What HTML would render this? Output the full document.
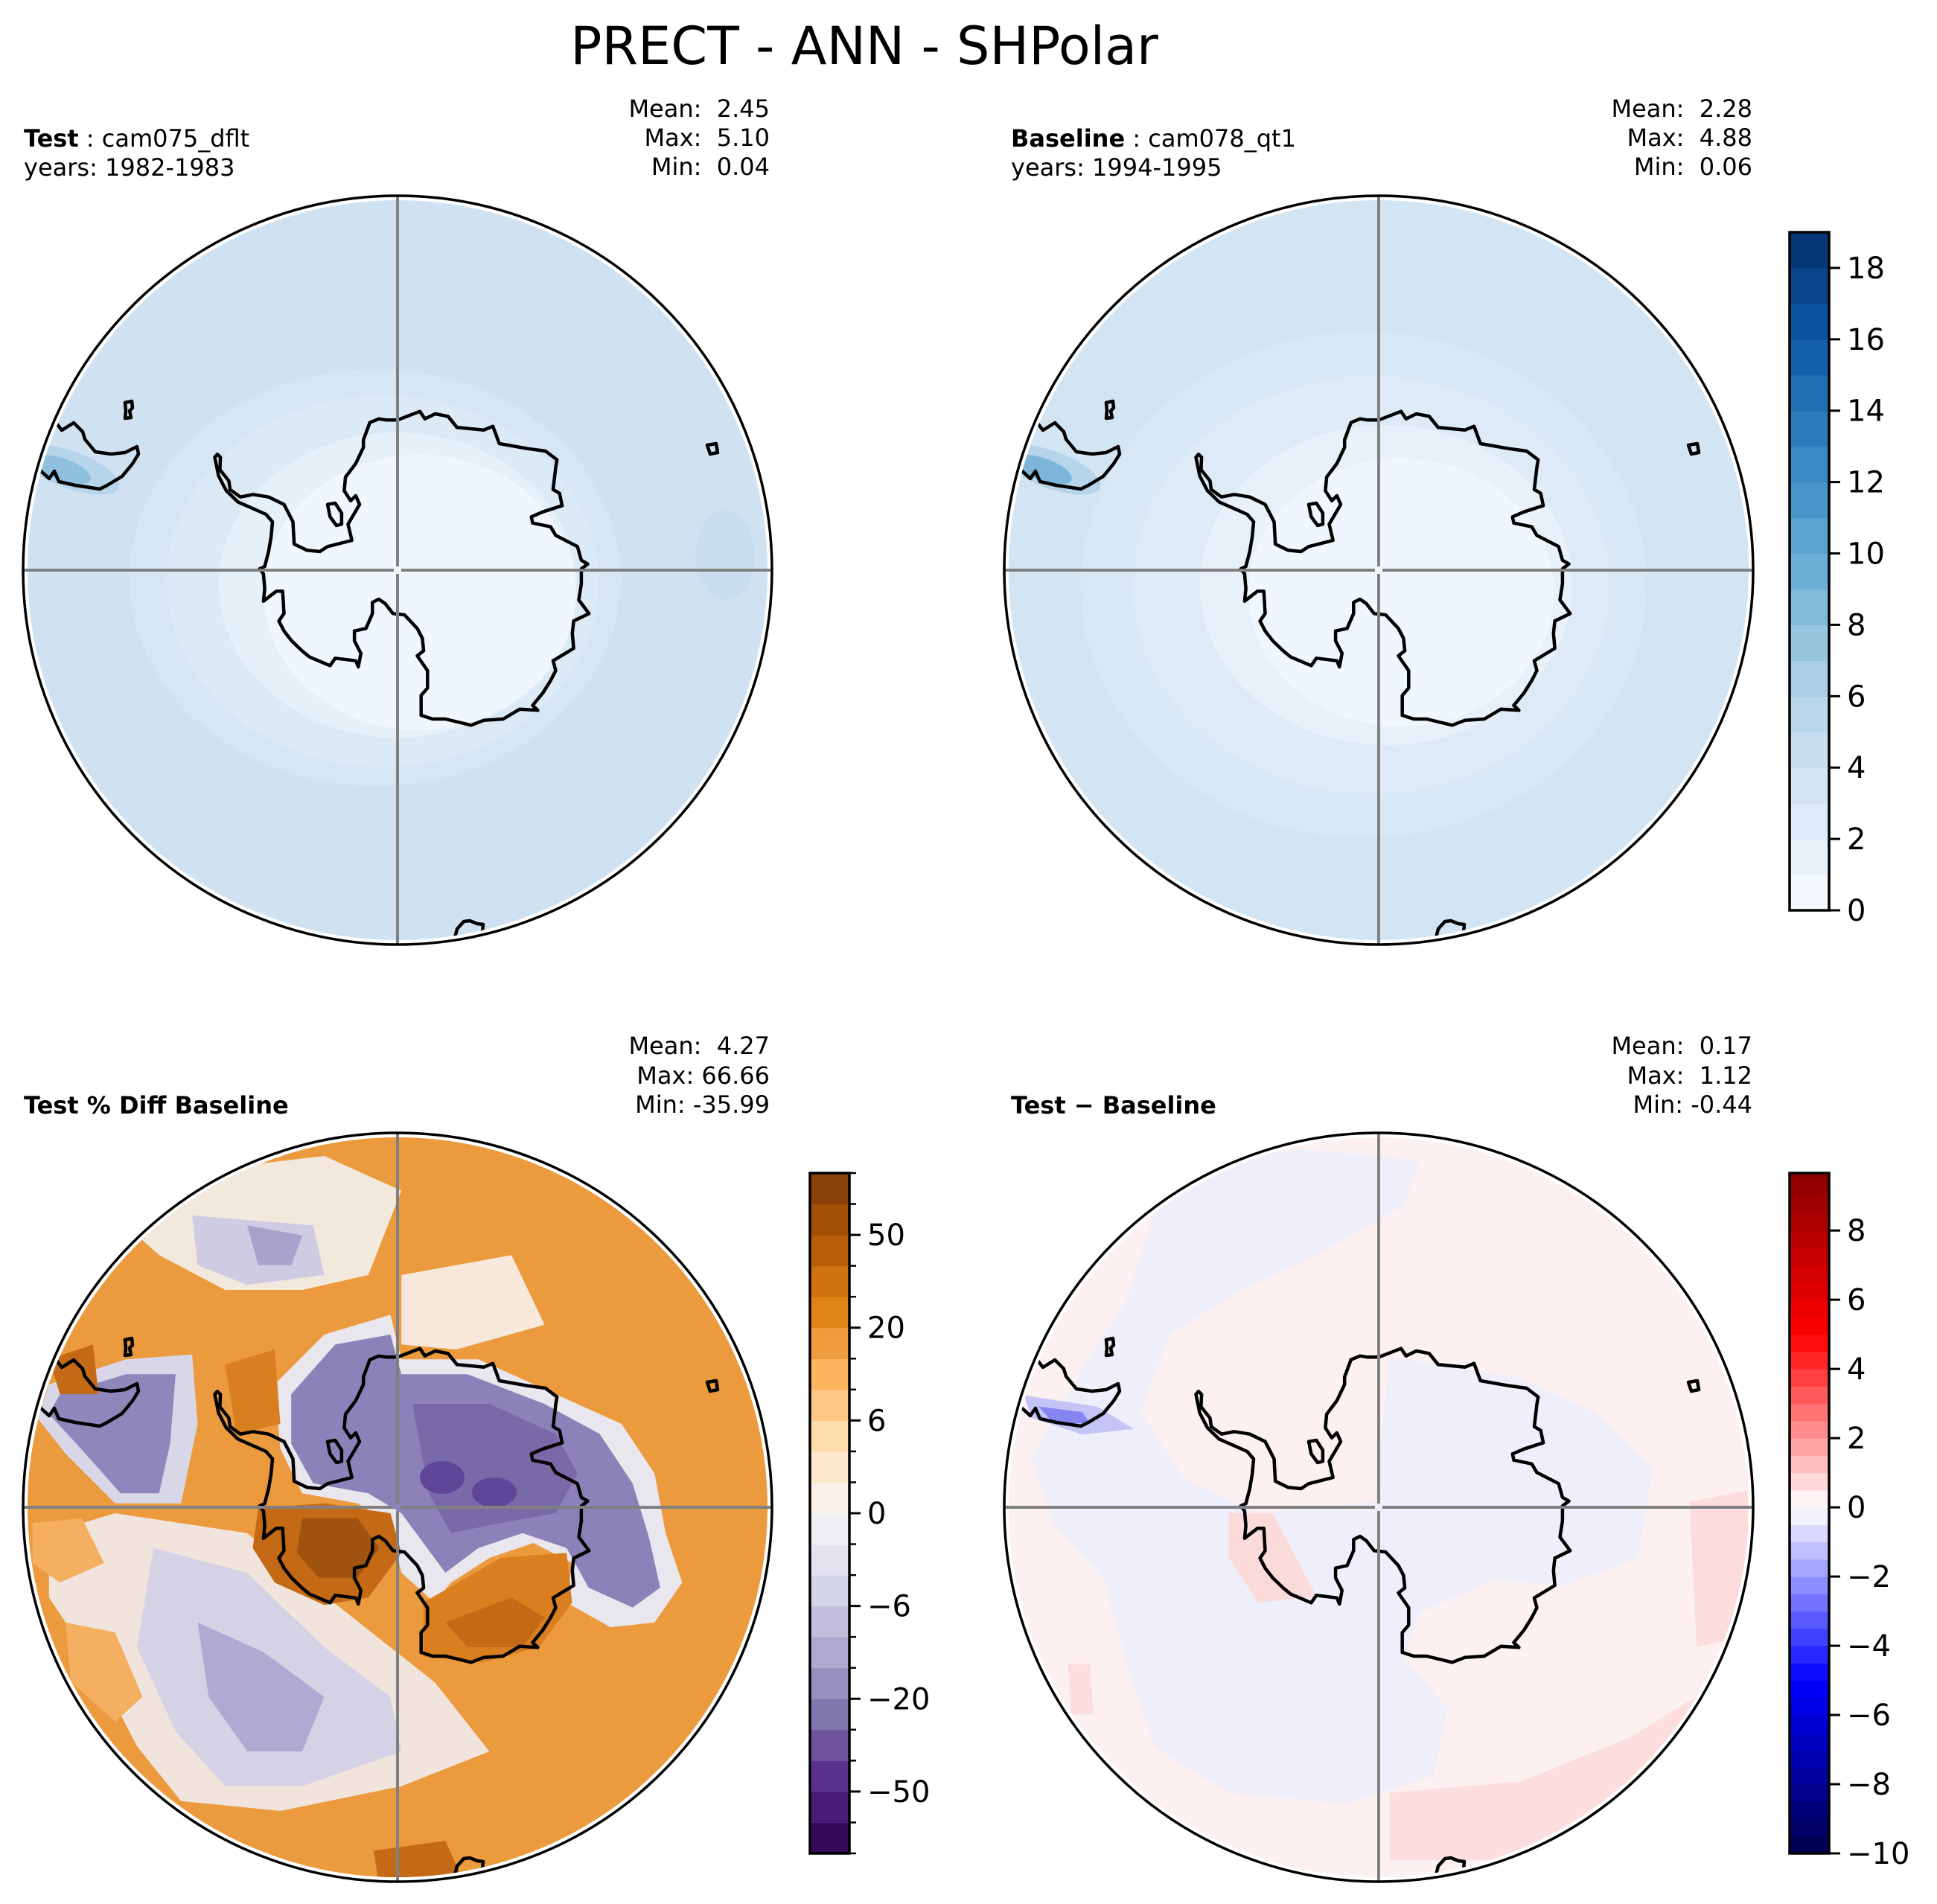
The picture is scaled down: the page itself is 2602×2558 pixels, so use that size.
<!DOCTYPE html>
<html><head><meta charset="utf-8"><style>
html,body{margin:0;padding:0;background:#fff}
svg{display:block;font-family:"DejaVu Sans","Liberation Sans",sans-serif}
text{white-space:pre}
</style></head><body>
<svg id="fig" xmlns="http://www.w3.org/2000/svg" width="2602" height="2558" viewBox="0 0 2602 2558" xml:space="preserve">
<rect width="2602" height="2558" fill="#fff"/>
<text x="1161" y="86" font-size="70" text-anchor="middle">PRECT - ANN - SHPolar</text>

<g font-size="32">
<text x="32" y="197"><tspan font-weight="bold">Test</tspan> : cam075_dflt</text>
<text x="32" y="236">years: 1982-1983</text>
<text x="1034" y="157" text-anchor="end">Mean:  2.45</text>
<text x="1034" y="196" text-anchor="end">Max:  5.10</text>
<text x="1034" y="235" text-anchor="end">Min:  0.04</text>
</g>
<g font-size="32">
<text x="1358" y="197"><tspan font-weight="bold">Baseline</tspan> : cam078_qt1</text>
<text x="1358" y="236">years: 1994-1995</text>
<text x="2354" y="157" text-anchor="end">Mean:  2.28</text>
<text x="2354" y="196" text-anchor="end">Max:  4.88</text>
<text x="2354" y="235" text-anchor="end">Min:  0.06</text>
</g>
<g font-size="32">
<text x="32" y="1496" font-weight="bold">Test % Diff Baseline</text>
<text x="1034" y="1416" text-anchor="end">Mean:  4.27</text>
<text x="1034" y="1456" text-anchor="end">Max: 66.66</text>
<text x="1034" y="1495" text-anchor="end">Min: -35.99</text>
</g>
<g font-size="32">
<text x="1358" y="1496" font-weight="bold">Test − Baseline</text>
<text x="2354" y="1416" text-anchor="end">Mean:  0.17</text>
<text x="2354" y="1456" text-anchor="end">Max:  1.12</text>
<text x="2354" y="1495" text-anchor="end">Min: -0.44</text>
</g>
</svg>
<script>
const NS='http://www.w3.org/2000/svg';
const svg=document.getElementById('fig');
function mk(tag,attrs,parent){const e=document.createElementNS(NS,tag);for(const k in attrs)e.setAttribute(k,attrs[k]);(parent||svg).appendChild(e);return e;}

// ---- colorbar data ----
const blueLevels=[0,1,2,3,4,5,6,7,8,9,10,11,12,13,14,15,16,17,18,19];
const blueTicks=[0,2,4,6,8,10,12,14,16,18];
const pctLevels=[-70,-60,-50,-40,-30,-20,-15,-10,-6,-4,-2,0,2,4,6,10,15,20,30,40,50,60,70];
const pctTicks=[-50,-20,-6,0,6,20,50];
const diffLevels=[-10,-9.5,-9,-8.5,-8,-7.5,-7,-6.5,-6,-5.5,-5,-4.5,-4,-3.5,-3,-2.5,-2,-1.5,-1,-0.5,0,0.5,1,1.5,2,2.5,3,3.5,4,4.5,5,5.5,6,6.5,7,7.5,8,8.5,9,9.5,9.66];
const diffTicks=[-10,-8,-6,-4,-2,0,2,4,6,8];

const BLUES=['#f7fbff','#deebf7','#c6dbef','#9ecae1','#6baed6','#4292c6','#2171b5','#08519c','#08306b'];
const PUOR=['#2d004b','#542788','#8073ac','#b2abd2','#d8daeb','#f7f7f7','#fee0b6','#fdb863','#e08214','#b35806','#7f3b08'];
const SEIS=['#00004c','#0000ff','#ffffff','#ff0000','#800000'];
function hx(c){return [parseInt(c.substr(1,2),16),parseInt(c.substr(3,2),16),parseInt(c.substr(5,2),16)];}
function cmap(a,t){t=Math.max(0,Math.min(1,t));const n=a.length-1;const i=Math.min(n-1,Math.floor(t*n));const f=t*n-i;const A=hx(a[i]),B=hx(a[i+1]);return 'rgb('+A.map((v,k)=>Math.round(v+(B[k]-v)*f)).join(',')+')';}

function colorbar(name,x,y,w,h,levels,ticks,uniform,colorFn,minor){
  const g=mk('g',{});
  
  
  const n=levels.length-1;
  const lo=levels[0],hi=levels[n];
  const pos=v=>{ if(uniform){const i=levels.indexOf(v);return y+h-(i/n)*h;} return y+h-(v-lo)/(hi-lo)*h; };
  for(let i=0;i<n;i++){
    const y1=pos(levels[i]),y2=pos(levels[i+1]);
    const r=mk('rect',{x:x,y:y2,width:w,height:y1-y2+0.6,fill:colorFn(i,n,levels)},g);
    
    
  }
  const b=mk('rect',{x:x,y:y,width:w,height:h,fill:'none',stroke:'#000','stroke-width':3.5},g);
  
  
  if(minor){for(const v of levels){const yy=pos(v);mk('line',{x1:x+w,x2:x+w+9,y1:yy,y2:yy,stroke:'#000','stroke-width':2.5},g);}}
  for(const v of ticks){
    const yy=pos(v);
    mk('line',{x1:x+w,x2:x+w+15,y1:yy,y2:yy,stroke:'#000','stroke-width':3},g);
    const t=mk('text',{x:x+w+24,y:yy+14,'font-size':40},g);
    t.textContent=(v<0?'−'+(-v):String(v));
    
    
  }
}
colorbar('colorbar-precip',2404,312,53,911,blueLevels,blueTicks,false,(i,n)=>cmap(BLUES,(i+0.5)/n),false);
colorbar('colorbar-pct-diff',1088,1576,53,914,pctLevels,pctTicks,true,(i,n)=>cmap(PUOR,(i+0.5)/n),true);
colorbar('colorbar-diff',2404,1576,53,914,diffLevels,diffTicks,false,(i,n,l)=>cmap(SEIS,((l[i]+l[i+1])/2+10)/20),false);

// ---- map geometry ----
const R=503;
const coastZ=[[763,100],[850,65],[870,95],[910,75],[960,85],[995,130],[1100,140],[1135,125],[1160,195],[1270,215],[1340,225],[1385,260],[1380,290],[1370,380],[1395,395],[1405,445],[1330,470],[1285,490],[1290,515],[1360,530],[1380,565],[1465,610],[1480,665],[1505,680],[1480,700],[1480,760],[1470,825],[1510,880],[1450,910],[1445,960],[1450,1020],[1370,1070],[1380,1110],[1360,1150],[1330,1200],[1290,1250],[1310,1270],[1240,1265],[1175,1305],[1100,1310],[1050,1330],[950,1305],[900,1305],[855,1290],[855,1210],[880,1180],[880,1110],[840,1050],[865,1030],[860,980],[840,940],[790,885],[745,880],[715,840],[690,822],[665,835],[665,880],[640,940],[595,950],[595,990],[620,1040],[610,1095],[600,1070],[520,1060],[500,1090],[420,1055],[390,1030],[350,990],[320,950],[300,910],[320,880],[315,790],[290,790],[240,830],[245,780],[240,720],[225,700],[245,690],[260,630],[265,600],[270,570],[275,510],[250,480],[140,430],[95,385],[65,325],[50,250],[60,238],[72,250],[70,300],[105,345],[110,380],[150,410],[200,400],[260,410],[320,440],[355,510],[360,600],[410,625],[460,630],[490,610],[585,585],[570,520],[615,440],[600,405],[580,425],[555,385],[560,330],[600,275],[630,210],[630,180],[655,110],[690,95],[720,100]];
const coast=coastZ.map(p=>[(p[0]-763)/2.904,(p[1]-705)/3]);
const isl1Z=[[490,440],[520,435],[545,475],[545,520],[525,525],[500,490]];
const isl1=isl1Z.map(p=>[(p[0]-763)/2.904,(p[1]-705)/3]);
const saFull=[[72,565],[82,578],[98,568],[110,580],[113,590],[127,607],[148,610],[167,608],[183,600],[185,610],[177,623],[163,640],[143,652],[133,657],[120,655],[100,652],[78,647],[72,633],[65,643],[53,632],[20,620],[20,560]];
const sa=saFull.map(p=>[p[0]-533,p[1]-766]);
const isl2=[[167,541],[176,539],[177,548],[173,552],[175,561],[167,562],[168,552]].map(p=>[p[0]-533,p[1]-766]);
const nz=[[77,520],[77,494],[80,482],[89,472],[97,471],[107,475],[115,476],[114,487],[114,520]];
const isl3=[[416,-168],[428,-170],[430,-158],[420,-156]];

function pts(arr,cx,cy){return arr.map(p=>(cx+p[0]).toFixed(1)+','+(cy+p[1]).toFixed(1)).join(' ');}

function panel(name,cx,cy,fills){
  const g=mk('g',{});
  
  
  const id='clip-'+name;
  const cp=mk('clipPath',{id:id},g);
  mk('circle',{cx:cx,cy:cy,r:R-6},cp);
  const fg=mk('g',{'clip-path':'url(#'+id+')'},g);
  fills(fg,cx,cy);
  const cg=mk('g',{'clip-path':'url(#'+id+')',fill:'none',stroke:'#000','stroke-width':4.5,'stroke-linejoin':'round'},g);
  const c=mk('polygon',{points:pts(coast,cx,cy)},cg);
  
  
  mk('polygon',{points:pts(isl1,cx,cy)},cg);
  mk('polyline',{points:pts(sa,cx,cy)},cg);
  mk('polygon',{points:pts(isl2,cx,cy)},cg);
  mk('polyline',{points:pts(nz,cx,cy)},cg);
  mk('polygon',{points:pts(isl3,cx,cy)},cg);
  const gl=mk('g',{stroke:'#808080','stroke-width':4},g);
  
  
  mk('line',{x1:cx-R,x2:cx-5,y1:cy,y2:cy},gl);
  mk('line',{x1:cx+5,x2:cx+R,y1:cy,y2:cy},gl);
  mk('line',{x1:cx,x2:cx,y1:cy-R,y2:cy-5},gl);
  mk('line',{x1:cx,x2:cx,y1:cy+5,y2:cy+R},gl);
  const b=mk('circle',{cx:cx,cy:cy,r:R,fill:'none',stroke:'#000','stroke-width':3.5},g);
  
  
}
function ell(g,cx,cy,dx,dy,rx,ry,fill,rot){mk('ellipse',{cx:cx+dx,cy:cy+dy,rx:rx,ry:ry,fill:fill,transform:rot?('rotate('+rot+' '+(cx+dx)+' '+(cy+dy)+')'):''},g);}
function poly(g,arr,cx,cy,fill,fx,fy,ox,oy){mk('polygon',{points:arr.map(p=>(cx+(p[0]-ox)/fx).toFixed(1)+','+(cy+(p[1]-oy)/fy).toFixed(1)).join(' '),fill:fill},g);}

// Panel 1: test
panel('map-test',534,766,(g,cx,cy)=>{
  mk('circle',{cx:cx,cy:cy,r:R,fill:'#d0e2f2'},g);
  ell(g,cx,cy,-30,10,330,280,'#d6e6f4');
  ell(g,cx,cy,-20,15,290,250,'#dceaf6');
  ell(g,cx,cy,0,20,240,205,'#e6f0f9');
  ell(g,cx,cy,30,30,210,185,'#eff6fd');
  ell(g,cx,cy,440,-20,40,60,'#c9ddf0');
  ell(g,cx,cy,-440,-135,70,25,'#b6d4ea',20);
  ell(g,cx,cy,-450,-135,40,15,'#8fc0dd',20);
});
// Panel 2: baseline
panel('map-baseline',1852,766,(g,cx,cy)=>{
  mk('circle',{cx:cx,cy:cy,r:R,fill:'#d3e4f3'},g);
  ell(g,cx,cy,-20,20,380,340,'#d9e8f5');
  ell(g,cx,cy,-10,20,320,280,'#deebf7');
  ell(g,cx,cy,10,20,250,215,'#e8f1fa');
  ell(g,cx,cy,30,30,205,180,'#eff6fd');
  ell(g,cx,cy,-440,-135,70,25,'#b6d4ea',20);
  ell(g,cx,cy,-450,-135,40,15,'#7db5d9',20);
});
// Panel 3: percent diff (zoom4 coords: fx=1.352, fy=1.5, origin 693,768)
panel('map-pct-diff',534,2025,(g,cx,cy)=>{
  const P=(a,f)=>poly(g,a,cx,cy,f,1.352,1.5,693,768);
  mk('circle',{cx:cx,cy:cy,r:R,fill:'#eb9a3e'},g);
  P([[180,780],[420,820],[600,980],[760,1120],[860,1260],[700,1330],[480,1380],[300,1360],[220,1250],[150,1100],[60,950],[60,820]],'#f0e4dc');
  P([[250,850],[420,900],[560,1050],[680,1150],[700,1260],[520,1330],[380,1330],[290,1220],[220,1050]],'#d6d2e6');
  P([[330,1000],[450,1060],[560,1150],[520,1260],[420,1260],[350,1150]],'#b2a9d2');
  P([[90,1000],[180,1020],[230,1150],[180,1200],[100,1120]],'#f4b060');
  P([[30,800],[120,790],[160,880],[80,920],[30,880]],'#f4b060');
  P([[250,100],[560,60],[700,130],[640,300],[520,330],[380,330],[260,260],[200,200]],'#f3e8dc');
  P([[320,180],[540,200],[560,300],[420,320],[330,280]],'#cfcbe3');
  P([[420,200],[520,220],[500,280],[440,280]],'#a9a0cc');
  P([[700,300],[900,260],[960,400],[800,450],[700,440]],'#f6e9dc');
  P([[60,520],[200,470],[320,460],[330,600],[300,760],[180,760],[90,660],[40,590]],'#d9d6e8');
  P([[80,540],[200,500],[290,500],[280,640],[260,740],[190,740],[110,640],[60,580]],'#8f86bc');
  P([[470,520],[560,420],[680,380],[700,470],[840,470],[980,540],[1100,600],[1160,700],[1180,820],[1210,920],[1160,1000],[1080,1010],[1000,960],[1010,880],[940,840],[860,870],[790,920],[760,960],[700,900],[680,800],[620,760],[520,740],[480,650]],'#e9e6ee');
  P([[500,540],[580,440],[680,420],[700,500],[820,500],[960,560],[1060,620],[1120,720],[1150,830],[1170,930],[1120,970],[1040,930],[1000,850],[920,820],[840,850],[780,900],[740,840],[700,780],[640,740],[540,720],[500,640]],'#8c82b9');
  P([[720,560],[860,560],[980,620],[1020,700],[980,780],[880,800],[790,820],[750,740]],'#7869a9');
  ell(g,cx,cy,60,-40,30,22,'#5f4698');
  ell(g,cx,cy,130,-20,30,20,'#5f4698');
  P([[440,770],[560,760],[680,780],[700,860],[640,950],[560,965],[470,920],[430,850]],'#c46a16');
  P([[520,790],[620,790],[660,850],[620,910],[550,910],[510,860]],'#a0530e');
  P([[740,960],[880,870],[1000,860],[1010,960],[950,1050],[850,1080],[740,1070]],'#d97f1f');
  P([[780,1000],[900,950],[960,990],[920,1050],[820,1050]],'#c46a16');
  P([[60,470],[140,440],[150,540],[80,540]],'#c46a16');
  P([[650,1460],[780,1440],[820,1540],[660,1540]],'#c46a16');
  P([[380,480],[470,450],[480,600],[400,620]],'#d97f1f');
});
// Panel 4: absolute diff (zoom5 coords: fx=1.018, fy=1.33, origin 805,870)
panel('map-diff',1852,2025,(g,cx,cy)=>{
  const P=(a,f)=>poly(g,a,cx,cy,f,1.018,1.33,805,870);
  mk('circle',{cx:cx,cy:cy,r:R,fill:'#fdf0f0'},g);
  P([[520,260],[700,230],[860,250],[840,330],[720,420],[620,480],[520,560],[480,700],[540,820],[640,880],[800,860],[820,600],[1000,640],[1100,700],[1180,800],[1160,960],[1060,1010],[960,1000],[860,1060],[840,1140],[900,1230],[880,1350],[760,1400],[600,1380],[500,1300],[460,1150],[430,1000],[360,900],[330,780],[400,620],[460,500]],'#efeffb');
  P([[600,880],[660,880],[720,1030],[640,1040],[600,960]],'#fbdada');
  P([[1230,860],[1310,840],[1310,1100],[1240,1120]],'#fcdcdc');
  P([[820,1380],[1000,1360],[1150,1280],[1250,1200],[1200,1400],[1000,1500],[820,1500]],'#fcdede');
  P([[380,1150],[410,1150],[415,1240],[385,1240]],'#fcdede');
  P([[320,670],[420,690],[470,730],[400,740],[330,710]],'#c4c4f6');
  P([[340,690],[400,700],[410,720],[360,720]],'#8585f0');
});
</script>
</body></html>
